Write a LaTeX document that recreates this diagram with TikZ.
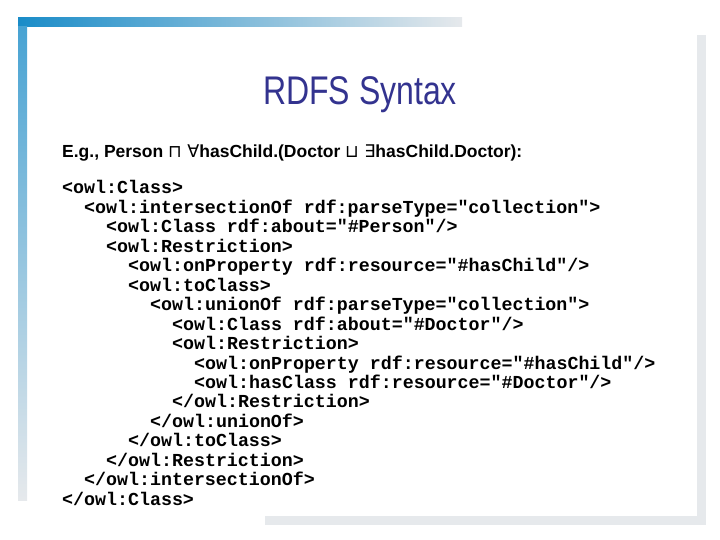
\documentclass[tikz,border=0pt]{standalone}
\usepackage{fontspec}
\setmainfont{Liberation Sans}
\setmonofont{Liberation Mono}
\newfontfamily\symf{DejaVu Sans}
\begin{document}
\begin{tikzpicture}[x=1pt,y=-1pt,
  code/.style={anchor=base west,inner sep=0pt,font=\ttfamily\bfseries\fontsize{18.3}{20}\selectfont}]
\useasboundingbox (0,0) rectangle (720,540);
\definecolor{bl}{HTML}{1A8CC8}
\definecolor{lg}{HTML}{E6E9EC}
\shade[left color=bl,right color=lg] (18,18) rectangle (462,27);
\shade[top color=bl!80,bottom color=lg] (18,27) rectangle (27,500);
\fill[lg] (697,35) rectangle (706,525);
\fill[lg] (265,516) rectangle (706,525);
\node[font=\fontsize{40}{44}\selectfont,text=blue!45!black!80,xscale=0.8,inner sep=0pt] (t) at (360,95) {RDFS Syntax};
\node[anchor=base west,inner sep=0pt,font=\bfseries\fontsize{17.5}{20}\selectfont] (e) at (62,158)
 {E.g., Person {\symf\mdseries ⊓ ∀}hasChild.(Doctor {\symf\mdseries ⊔ ∃}hasChild.Doctor):};
\foreach \i/\ind/\txt in {
0/0/{<owl:Class>},
1/1/{<owl:intersectionOf rdf:parseType="collection">},
2/2/{<owl:Class rdf:about="\#Person"/>},
3/2/{<owl:Restriction>},
4/3/{<owl:onProperty rdf:resource="\#hasChild"/>},
5/3/{<owl:toClass>},
6/4/{<owl:unionOf rdf:parseType="collection">},
7/5/{<owl:Class rdf:about="\#Doctor"/>},
8/5/{<owl:Restriction>},
9/6/{<owl:onProperty rdf:resource="\#hasChild"/>},
10/6/{<owl:hasClass rdf:resource="\#Doctor"/>},
11/5/{</owl:Restriction>},
12/4/{</owl:unionOf>},
13/3/{</owl:toClass>},
14/2/{</owl:Restriction>},
15/1/{</owl:intersectionOf>},
16/0/{</owl:Class>}}
  \node[code] (c\i) at (62+22*\ind,194+19.45*\i) {\txt};
\end{tikzpicture}
\end{document}
